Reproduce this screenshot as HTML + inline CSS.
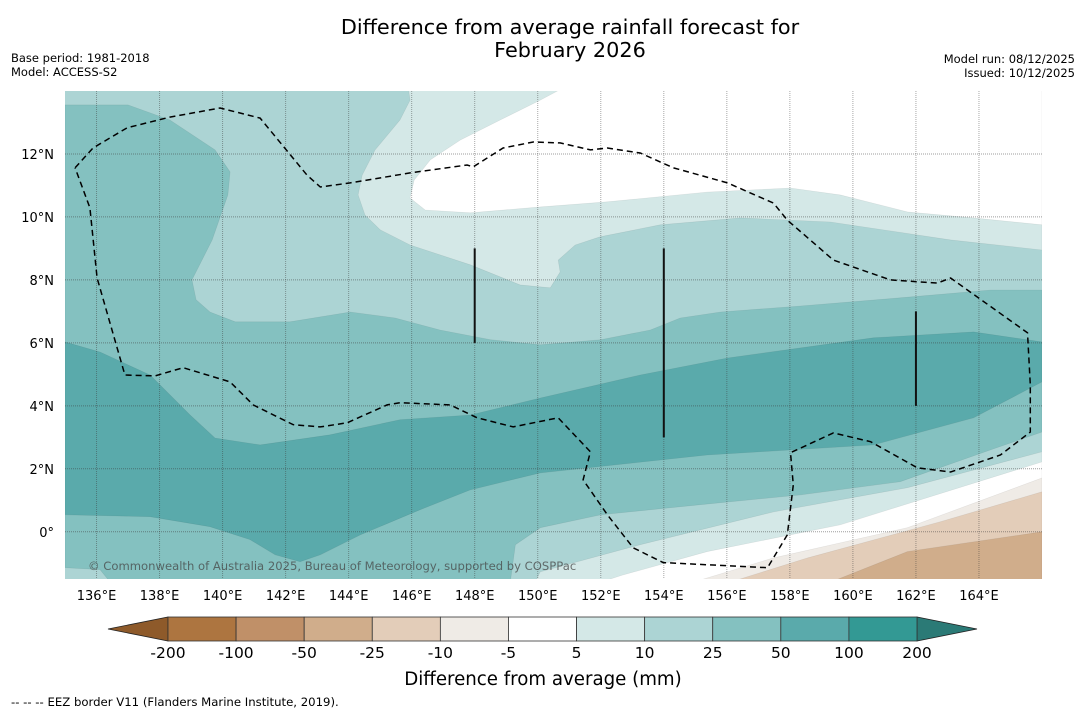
<!DOCTYPE html>
<html><head><meta charset="utf-8">
<style>
html,body{margin:0;padding:0;background:#fff;width:1085px;height:713px;overflow:hidden}
svg text{font-family:"DejaVu Sans","Liberation Sans",sans-serif}
</style></head>
<body>
<svg id="chart" width="1085" height="713" viewBox="0 0 1085 713" xmlns="http://www.w3.org/2000/svg">
<text x="570" y="34" font-size="20.8" text-anchor="middle">Difference from average rainfall forecast for</text>
<text x="570" y="57" font-size="20.8" text-anchor="middle">February 2026</text>
<text x="11" y="62" font-size="11.5">Base period: 1981-2018</text>
<text x="11" y="76" font-size="11.5">Model: ACCESS-S2</text>
<text x="1075" y="63" font-size="11.5" text-anchor="end">Model run: 08/12/2025</text>
<text x="1075" y="77" font-size="11.5" text-anchor="end">Issued: 10/12/2025</text>
<defs><clipPath id="mapclip"><rect x="65" y="91" width="977" height="488"/></clipPath></defs>
<g id="map" clip-path="url(#mapclip)"></g>
<g id="axes"></g>
<g id="cbar"></g>
<text x="543" y="685" font-size="18.2" text-anchor="middle">Difference from average (mm)</text>
<text x="11" y="706" font-size="11.7">--  --  -- EEZ border V11 (Flanders Marine Institute, 2019).</text>
</svg>
<script>
// axis ranges
const lonRange = [135, 166];
const latRange = [-1.5, 14];
const lonTicks = [136,138,140,142,144,146,148,150,152,154,156,158,160,162,164];
const latTicks = [0,2,4,6,8,10,12];
// colour levels
const cbarLevels = ['-200','-100','-50','-25','-10','-5','5','10','25','50','100','200'];
const cbarColors = ['#ad7540','#c09068','#d0ad8b','#e3cdb9','#efebe6','#ffffff','#d4e8e7','#acd4d4','#84c1c0','#5aaaab','#339994'];
const cbarLow = '#8e5a2a', cbarHigh = '#2b7a76';
// filled contour regions [lon,lat] drawn in order
const band25to50 = [[135,13.56],[137,13.56],[138.33,13.08],[139.76,12.13],[140.24,11.43],[140.17,10.7],[139.67,9.27],[139.03,8],[139.16,7.37],[139.6,6.98],[140.4,6.67],[142.14,6.67],[144.05,6.98],[145.48,6.79],[146.9,6.41],[148.5,6.1],[150.08,5.94],[152,6.1],[153.57,6.41],[154.52,6.79],[155.8,6.98],[158.33,7.17],[161.5,7.43],[164.37,7.68],[166,7.68],[166,3.17],[164.37,2.6],[161.5,1.59],[158.33,1.17],[155.16,0.86],[152,0.54],[150.08,0.13],[149.29,-0.41],[149.13,-1.6],[136.43,-1.6],[136.11,-1.2],[135,-1.14]];
const band50to100 = [[135,6.03],[136.11,5.71],[137.7,4.98],[138.97,3.71],[139.76,2.98],[141.19,2.76],[143.41,3.08],[145.63,3.56],[147.86,3.71],[150.08,4.25],[153.25,4.98],[156.02,5.52],[160.65,6.16],[163.83,6.35],[166,6.03],[166,4.76],[163.83,3.62],[160.65,2.76],[155.38,2.44],[150.08,1.87],[147.86,1.33],[146.27,0.7],[144.37,-0.1],[143.1,-0.73],[142.46,-0.95],[141.67,-0.73],[140.87,-0.25],[139.6,0.16],[137.7,0.48],[135,0.54]];
const band5to10North = [[145.89,14.1],[145.95,13.71],[145.63,13.08],[144.84,12.13],[144.43,11.33],[144.3,10.7],[144.52,10.06],[145,9.59],[145.95,9.11],[147.86,8.48],[149.44,7.84],[150.4,7.75],[150.71,8.25],[150.65,8.63],[151.19,9.11],[151.98,9.37],[153.89,9.75],[156.43,9.97],[159.29,9.84],[163.1,9.27],[166,8.95],[166,14.1]];
const bandWhiteNorth = [[150.81,14.1],[150.08,13.71],[148.81,13.08],[147.54,12.44],[146.59,11.81],[146.08,11.17],[145.95,10.6],[146.43,10.22],[147.86,10.13],[150.08,10.32],[152.21,10.48],[155.38,10.79],[158.02,10.92],[159.6,10.7],[161.73,10.16],[163.83,9.97],[166,9.75],[166,14.1]];
const band5to10South = [[149.92,-1.6],[150.08,-1.27],[153.25,-0.41],[157.48,0.63],[161.73,1.4],[166,2.54],[166,-1.6]];
const bandWhiteSouth = [[152,-1.6],[152.71,-1.37],[155.38,-0.63],[159.6,0.22],[166,2.22],[166,-1.6]];
const bandM5to10 = [[154.94,-1.6],[157.48,-0.83],[161.73,0.13],[166,1.71],[166,-1.6]];
const bandM10to25 = [[156.11,-1.6],[158.56,-0.83],[162.78,0.32],[166,1.27],[166,-1.6]];
const bandM25to50 = [[159.29,-1.6],[161.73,-0.63],[166,0],[166,-1.6]];
const eezLine = [[135.32,11.56],[135.89,12.19],[136.97,12.83],[138.33,13.17],[139.92,13.46],[141.19,13.14],[142.68,11.33],[143.1,10.95],[144.05,11.08],[145.95,11.4],[147.76,11.65],[147.95,11.59],[148.9,12.19],[149.86,12.38],[150.71,12.35],[151.67,12.13],[152.21,12.19],[153.25,12.03],[154.3,11.56],[156.02,11.08],[157.48,10.44],[157.92,9.9],[159.38,8.63],[161.19,8],[162.68,7.9],[163.1,8.06],[165.54,6.32],[165.63,4.67],[165.63,3.17],[164.68,2.44],[163.1,1.9],[162.05,2.03],[160.56,2.86],[159.38,3.14],[158.02,2.51],[158.11,1.49],[157.92,-0.1],[157.29,-1.14],[153.98,-0.98],[153.03,-0.51],[152.21,0.54],[151.44,1.65],[151.67,2.54],[150.65,3.62],[149.22,3.33],[148.08,3.62],[147.22,4.03],[145.63,4.1],[145.22,4.03],[143.95,3.46],[143.1,3.33],[142.24,3.4],[140.97,4.03],[140.24,4.76],[138.75,5.21],[137.86,4.95],[136.9,4.98],[136.02,8.06],[135.79,10.29],[135.32,11.56]];
const solidLines = [[148,9,6],[154,9,3],[162,7,4]];

const X0=65, X1=1042, Y0=91, Y1=579;
const xs = lon => X0 + (lon-lonRange[0])/(lonRange[1]-lonRange[0])*(X1-X0);
const ys = lat => Y1 - (lat-latRange[0])/(latRange[1]-latRange[0])*(Y1-Y0);
const NS='http://www.w3.org/2000/svg';
function mk(tag, parent, attrs){const e=document.createElementNS(NS,tag);for(const k in attrs)e.setAttribute(k,attrs[k]);parent.appendChild(e);return e;}
const map=document.getElementById('map'), axes=document.getElementById('axes'), cbar=document.getElementById('cbar');

let bg=mk('rect',map,{x:X0,y:Y0,width:X1-X0,height:Y1-Y0,fill:'#acd4d4'});


const regions=[[band25to50,'#84c1c0','band-25-to-50'],[band50to100,'#5aaaab','band-50-to-100'],[band5to10North,'#d4e8e7','band-5-to-10-north'],[bandWhiteNorth,'#ffffff','band-near-average-north'],[band5to10South,'#d4e8e7','band-5-to-10-south'],[bandWhiteSouth,'#ffffff','band-near-average-south'],[bandM5to10,'#efebe6','band-minus-5-to-10'],[bandM10to25,'#e3cdb9','band-minus-10-to-25'],[bandM25to50,'#d0ad8b','band-minus-25-to-50']];
regions.forEach(r=>{
  const p=mk('polygon',map,{points:r[0].map(d=>xs(d[0]).toFixed(1)+','+ys(d[1]).toFixed(1)).join(' '),fill:r[1],stroke:'rgba(0,0,0,0.08)','stroke-width':0.6});
  
  
});
// gridlines
lonTicks.forEach(l=>{
  const g=mk('line',map,{x1:xs(l),x2:xs(l),y1:Y0,y2:Y1,stroke:'rgba(60,60,60,0.45)','stroke-width':1,'stroke-dasharray':'1,1'});
  
  
  const t=mk('text',axes,{x:xs(l),y:600,'font-size':13,'text-anchor':'middle'});t.textContent=l+'°E';
  
  
});
latTicks.forEach(l=>{
  const g=mk('line',map,{x1:X0,x2:X1,y1:ys(l),y2:ys(l),stroke:'rgba(60,60,60,0.5)','stroke-width':1,'stroke-dasharray':'1,1'});
  
  
  const t=mk('text',axes,{x:54,y:ys(l)+5,'font-size':13,'text-anchor':'end'});t.textContent=l===0?'0°':l+'°N';
  
  
});
// EEZ dashed line
const eez=mk('polyline',map,{points:eezLine.map(d=>xs(d[0]).toFixed(1)+','+ys(d[1]).toFixed(1)).join(' '),fill:'none',stroke:'#000','stroke-width':1.5,'stroke-dasharray':'6,4'});


solidLines.forEach(s=>{
  const l=mk('line',map,{x1:xs(s[0]),x2:xs(s[0]),y1:ys(s[1]),y2:ys(s[2]),stroke:'#111','stroke-width':2});
  
  
});
const cp=mk('text',map,{x:88,y:570,'font-size':11.6,fill:'rgba(70,70,70,0.75)'});
cp.textContent='© Commonwealth of Australia 2025, Bureau of Meteorology, supported by COSPPac';


// colorbar
const CB0=168, CB1=917, CBY=617, CBH=24, n=cbarColors.length, w=(CB1-CB0)/n;
const lt=mk('polygon',cbar,{points:`108,${CBY+CBH/2} ${CB0},${CBY} ${CB0},${CBY+CBH}`,fill:cbarLow,stroke:'#222','stroke-width':0.8});


const rt=mk('polygon',cbar,{points:`977,${CBY+CBH/2} ${CB1},${CBY} ${CB1},${CBY+CBH}`,fill:cbarHigh,stroke:'#222','stroke-width':0.8});


cbarColors.forEach((c,i)=>{
  const r=mk('rect',cbar,{x:CB0+i*w,y:CBY,width:w,height:CBH,fill:c,stroke:'#333','stroke-width':0.8});
  
  
});
cbarLevels.forEach((lab,i)=>{
  const t=mk('text',cbar,{x:CB0+i*w,y:658,'font-size':15.5,'text-anchor':'middle'});t.textContent=lab;
  
  
});
</script>
</body></html>
